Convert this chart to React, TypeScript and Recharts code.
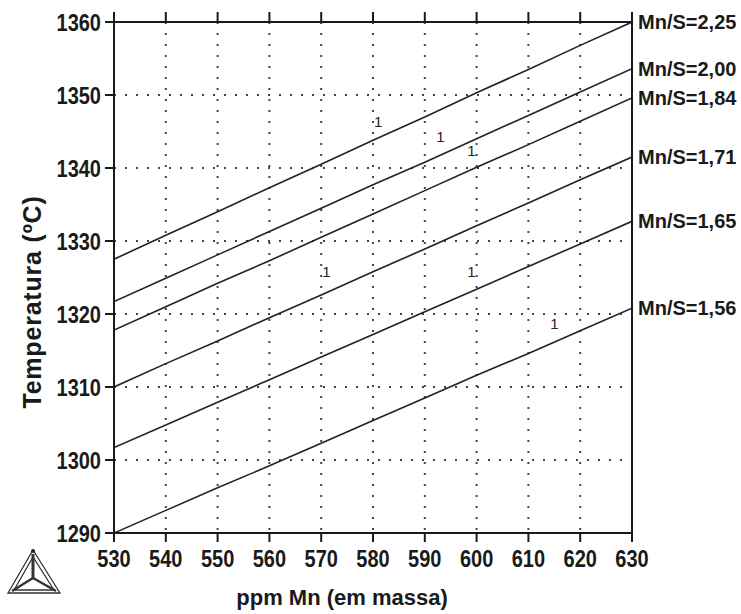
import React from 'react';
import {
  ComposedChart, Line, Scatter, XAxis, YAxis, CartesianGrid,
} from 'recharts';

const ppm = [530, 540, 550, 560, 570, 580, 590, 600, 610, 620, 630];
const xTicks = [530, 540, 550, 560, 570, 580, 590, 600, 610, 620, 630];
const yTicks = [1290, 1300, 1310, 1320, 1330, 1340, 1350, 1360];

// temperatura (ºC) read at each 10 ppm
const r225 = [1327.5, 1330.8, 1334.0, 1337.3, 1340.5, 1343.8, 1347.0, 1350.3, 1353.5, 1356.8, 1360.0];
const r200 = [1321.7, 1324.9, 1328.1, 1331.3, 1334.5, 1337.7, 1340.8, 1344.0, 1347.2, 1350.4, 1353.6];
const r184 = [1317.8, 1321.0, 1324.2, 1327.3, 1330.5, 1333.7, 1336.9, 1340.1, 1343.2, 1346.4, 1349.6];
const r171 = [1310.0, 1313.2, 1316.3, 1319.5, 1322.6, 1325.8, 1328.9, 1332.1, 1335.2, 1338.4, 1341.5];
const r165 = [1301.7, 1304.8, 1307.9, 1311.0, 1314.1, 1317.2, 1320.3, 1323.4, 1326.5, 1329.6, 1332.7];
const r156 = [1290.0, 1293.1, 1296.2, 1299.2, 1302.3, 1305.4, 1308.5, 1311.6, 1314.6, 1317.7, 1320.8];

const seriesKeys = ['r225', 'r200', 'r184', 'r171', 'r165', 'r156'];
const seriesNames = ['Mn/S=2,25', 'Mn/S=2,00', 'Mn/S=1,84', 'Mn/S=1,71', 'Mn/S=1,65', 'Mn/S=1,56'];

// the little "1" labels on the curves
const labelPpm = [581, 593, 599, 571, 599, 615];
const labelTemp = [1346.3, 1344.3, 1342.3, 1325.7, 1325.7, 1318.6];

const data = ppm.map((p, i) => ({
  ppm: p, r225: r225[i], r200: r200[i], r184: r184[i], r171: r171[i], r165: r165[i], r156: r156[i],
}));
const labelPoints = labelPpm.map((p, i) => ({ ppm: p, temp: labelTemp[i] }));

const FONT = '"Liberation Sans", Arial, sans-serif';
const INK = '#1a1a1a';

// ticks draw their own tick mark (tickSize/tickMargin are 0, so x/y sit on the axis line)
const LeftTick = ({ x, y, payload }: any) => (
  <g>
    <line x1={x - 9} x2={x} y1={y} y2={y} stroke={INK} strokeWidth={2} />
    <g transform={`translate(${x - 13},${y + 8.5}) scale(1,1.2)`}>
      <text x={0} y={0} textAnchor="end" fontFamily={FONT} fontWeight="bold" fontSize={20} fill={INK}>
        {payload.value}
      </text>
    </g>
  </g>
);

const BottomTick = ({ x, y, payload }: any) => (
  <g>
    <line x1={x} x2={x} y1={y} y2={y + 9} stroke={INK} strokeWidth={2} />
    <g transform={`translate(${x},${y + 34}) scale(1,1.2)`}>
      <text x={0} y={0} textAnchor="middle" fontFamily={FONT} fontWeight="bold" fontSize={20} fill={INK}>
        {payload.value}
      </text>
    </g>
  </g>
);

const TopTick = ({ x, y }: any) => <line x1={x} x2={x} y1={y} y2={y - 10} stroke={INK} strokeWidth={2} />;
const RightTick = ({ x, y }: any) => <line x1={x} x2={x + 9} y1={y} y2={y} stroke={INK} strokeWidth={2} />;

const endLabel = (name: string) => (p: any) => {
  if (p.index !== ppm.length - 1) return <g />;
  return (
    <text x={p.x + 6} y={p.y + 7} fontFamily={FONT} fontWeight="bold" fontSize={20} fill={INK}>
      {name}
    </text>
  );
};

const OneMark = (p: any) => (
  <text x={p.cx} y={p.cy + 5} textAnchor="middle" fontFamily={FONT} fontSize={15} fill="#222">1</text>
);

const axisCommon = { stroke: INK, strokeWidth: 2, tickLine: false, tickSize: 0, tickMargin: 0 };

export default function App() {
  return (
    <div style={{ position: 'absolute', left: 0, top: 0, width: 741, height: 614, background: '#fff' }}>
      <ComposedChart
        width={741}
        height={614}
        data={data}
        margin={{ top: 0, right: 0, bottom: 0, left: 0 }}
      >
        <CartesianGrid stroke="#444" strokeDasharray="2 9" strokeWidth={2} />
        <XAxis
          dataKey="ppm" type="number" domain={[530, 630]} ticks={xTicks}
          height={81} {...axisCommon} tick={<BottomTick />} allowDataOverflow
        />
        <XAxis
          xAxisId="t" orientation="top" dataKey="ppm" type="number" domain={[530, 630]} ticks={xTicks}
          height={22} {...axisCommon} tick={<TopTick />}
        />
        <YAxis
          type="number" domain={[1290, 1360]} ticks={yTicks}
          width={114} {...axisCommon} tick={<LeftTick />} allowDataOverflow
        />
        <YAxis
          yAxisId="r" orientation="right" type="number" domain={[1290, 1360]} ticks={yTicks}
          width={109} {...axisCommon} tick={<RightTick />}
        />
        {seriesKeys.map((k, i) => (
          <Line
            key={k}
            dataKey={k}
            type="linear"
            stroke="#222"
            strokeWidth={1.6}
            dot={false}
            isAnimationActive={false}
            label={endLabel(seriesNames[i])}
          />
        ))}
        <Scatter data={labelPoints} dataKey="temp" shape={<OneMark />} isAnimationActive={false} />
      </ComposedChart>

      <div
        style={{
          position: 'absolute', left: 32, top: 302, transform: 'translate(-50%,-50%) rotate(-90deg)',
          fontFamily: FONT, fontWeight: 'bold', fontSize: 25, letterSpacing: 0.8, whiteSpace: 'nowrap', color: INK,
        }}
      >
        Temperatura (ºC)
      </div>
      <div
        style={{
          position: 'absolute', left: 342, top: 598, transform: 'translate(-50%,-50%)',
          fontFamily: FONT, fontWeight: 'bold', fontSize: 22, whiteSpace: 'nowrap', color: INK,
        }}
      >
        ppm Mn (em massa)
      </div>

      <svg style={{ position: 'absolute', left: 0, top: 540 }} width={70} height={60}>
        <g fill="none" stroke="#333" strokeWidth={1.3}>
          <polygon points="33,10 8,53 60,53" />
          <polygon points="33,17 14,50 54,50" />
          <line x1={33} y1={14} x2={33} y2={38} strokeWidth={3} />
          <line x1={33} y1={38} x2={12} y2={51} strokeWidth={2.5} />
          <line x1={33} y1={38} x2={56} y2={51} strokeWidth={2.5} />
        </g>
        <circle cx={33} cy={11} r={2} fill="#222" />
      </svg>
    </div>
  );
}
